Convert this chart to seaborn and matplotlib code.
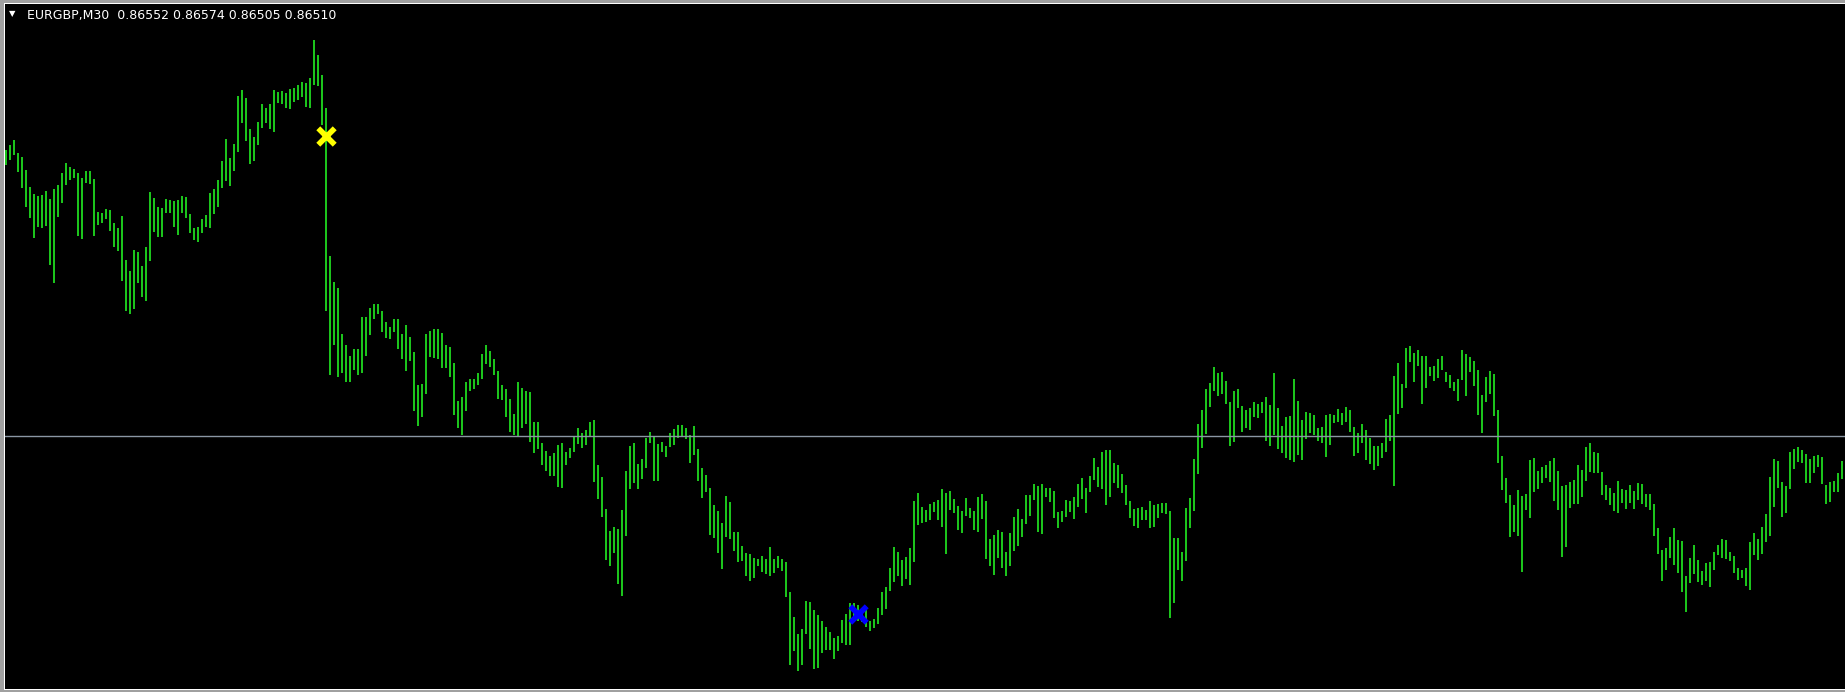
import numpy as np
import matplotlib.pyplot as plt
import seaborn as sns

# EURGBP M30, two 30-min bars merged per entry
bar_high = [
    # first block
    0.86830, 0.86835, 0.86840, 0.86827, 0.86823, 0.86810, 0.86793, 0.86786, 0.86784, 0.86785,
    0.86789, 0.86781, 0.86791, 0.86795, 0.86807, 0.86817, 0.86813, 0.86811, 0.86807, 0.86802,
    0.86809, 0.86809, 0.86801, 0.86768, 0.86767, 0.86771, 0.86770, 0.86757, 0.86752, 0.86764,
    0.86720, 0.86709, 0.86730, 0.86728, 0.86714, 0.86733, 0.86788, 0.86782, 0.86773, 0.86772,
    0.86781, 0.86780, 0.86779, 0.86780, 0.86784, 0.86783, 0.86766, 0.86752, 0.86753, 0.86761,
    0.86765, 0.86787, 0.86791, 0.86800, 0.86819, 0.86841, 0.86822, 0.86836, 0.86884, 0.86890,
    0.86882, 0.86851, 0.86843, 0.86858, 0.86876, 0.86872, 0.86876, 0.86890, 0.86888, 0.86889,
    0.86887, 0.86891, 0.86892, 0.86895, 0.86898, 0.86897,
    # drop
    0.86902, 0.86940, 0.86925, 0.86905, 0.86872, 0.86724, 0.86698, 0.86692, 0.86646, 0.86635,
    0.86624, 0.86631, 0.86631, 0.86663, 0.86663, 0.86672, 0.86676, 0.86676, 0.86669, 0.86658,
    0.86653, 0.86661, 0.86661, 0.86646, 0.86655, 0.86643, 0.86628, 0.86595, 0.86596, 0.86646,
    0.86649, 0.86651, 0.86651, 0.86647, 0.86635, 0.86633, 0.86617, 0.86579, 0.86583, 0.86598,
    0.86601, 0.86601, 0.86607, 0.86626, 0.86635, 0.86629, 0.86621, 0.86609, 0.86595, 0.86591,
    0.86581, 0.86566, 0.86598, 0.86592, 0.86589, 0.86588, 0.86558, 0.86558, 0.86537, 0.86529,
    0.86524, 0.86527, 0.86535, 0.86537, 0.86528, 0.86532, 0.86543, 0.86552, 0.86547, 0.86550,
    0.86558, 0.86560, 0.86515, 0.86503, 0.86471, 0.86449, 0.86453,
    # bottom
    0.86451, 0.86470, 0.86509, 0.86534, 0.86537, 0.86516, 0.86521, 0.86542, 0.86548, 0.86543,
    0.86536, 0.86538, 0.86534, 0.86547, 0.86551, 0.86555, 0.86555, 0.86552, 0.86545, 0.86554,
    0.86531, 0.86512, 0.86505, 0.86492, 0.86475, 0.86469, 0.86457, 0.86484, 0.86478, 0.86448,
    0.86448, 0.86434, 0.86427, 0.86426, 0.86422, 0.86421, 0.86424, 0.86421, 0.86433, 0.86421,
    0.86424, 0.86421, 0.86418, 0.86388, 0.86363, 0.86346, 0.86351, 0.86379, 0.86378, 0.86370,
    0.86365, 0.86359, 0.86353, 0.86348, 0.86342, 0.86344, 0.86360, 0.86366, 0.86377, 0.86377,
    0.86375, 0.86371, 0.86371, 0.86359, 0.86361, 0.86372, 0.86388, 0.86393, 0.86412, 0.86433,
    0.86428, 0.86420, 0.86423, 0.86432, 0.86479, 0.86487, 0.86473,
    # recovery
    0.86470, 0.86476, 0.86478, 0.86480, 0.86491, 0.86487, 0.86489, 0.86481, 0.86474, 0.86469,
    0.86482, 0.86472, 0.86469, 0.86483, 0.86486, 0.86479, 0.86441, 0.86445, 0.86450, 0.86448,
    0.86428, 0.86447, 0.86463, 0.86471, 0.86461, 0.86485, 0.86485, 0.86496, 0.86494, 0.86496,
    0.86492, 0.86492, 0.86489, 0.86468, 0.86469, 0.86480, 0.86479, 0.86483, 0.86496, 0.86502,
    0.86492, 0.86504, 0.86522, 0.86513, 0.86528, 0.86530, 0.86530, 0.86517, 0.86515, 0.86506,
    0.86495, 0.86479, 0.86471, 0.86472, 0.86473, 0.86470, 0.86479, 0.86475, 0.86476, 0.86477,
    0.86477, 0.86469, 0.86442, 0.86442, 0.86428, 0.86472, 0.86482, 0.86521, 0.86556, 0.86570,
    0.86591, 0.86597, 0.86613, 0.86607, 0.86608, 0.86599, 0.86578,
    # upper range
    0.86589, 0.86591, 0.86574, 0.86570, 0.86572, 0.86578, 0.86576, 0.86578, 0.86583, 0.86575,
    0.86607, 0.86572, 0.86554, 0.86563, 0.86564, 0.86601, 0.86579, 0.86560, 0.86568, 0.86567,
    0.86565, 0.86552, 0.86553, 0.86565, 0.86566, 0.86565, 0.86571, 0.86567, 0.86573, 0.86570,
    0.86553, 0.86547, 0.86556, 0.86550, 0.86542, 0.86534, 0.86534, 0.86537, 0.86561, 0.86565,
    0.86604, 0.86617, 0.86596, 0.86632, 0.86634, 0.86627, 0.86630, 0.86624, 0.86624, 0.86613,
    0.86614, 0.86621, 0.86624, 0.86608, 0.86605, 0.86598, 0.86601, 0.86630, 0.86626, 0.86623,
    0.86619, 0.86610, 0.86585, 0.86603, 0.86609, 0.86606, 0.86570, 0.86524, 0.86502, 0.86485,
    0.86475, 0.86490, 0.86484, 0.86486, 0.86520, 0.86522, 0.86509,
    # last
    0.86513, 0.86515, 0.86519, 0.86522, 0.86509, 0.86494, 0.86495, 0.86498, 0.86500, 0.86515,
    0.86510, 0.86533, 0.86537, 0.86528, 0.86527, 0.86508, 0.86495, 0.86492, 0.86487, 0.86499,
    0.86491, 0.86490, 0.86495, 0.86489, 0.86497, 0.86496, 0.86486, 0.86486, 0.86476, 0.86452,
    0.86430, 0.86432, 0.86443, 0.86452, 0.86440, 0.86439, 0.86404, 0.86422, 0.86435, 0.86420,
    0.86409, 0.86417, 0.86418, 0.86428, 0.86435, 0.86441, 0.86440, 0.86428, 0.86424, 0.86412,
    0.86410, 0.86412, 0.86438, 0.86447, 0.86441, 0.86453, 0.86466, 0.86503, 0.86521, 0.86519,
    0.86498, 0.86494, 0.86528, 0.86531, 0.86533, 0.86530, 0.86526, 0.86521, 0.86524, 0.86525,
    0.86523, 0.86495, 0.86498, 0.86499, 0.86507, 0.86519,
]

bar_low = [
    0.86815, 0.86820, 0.86825, 0.86808, 0.86792, 0.86773, 0.86762, 0.86742, 0.86753, 0.86752,
    0.86754, 0.86715, 0.86697, 0.86763, 0.86777, 0.86795, 0.86800, 0.86802, 0.86744, 0.86741,
    0.86797, 0.86796, 0.86744, 0.86755, 0.86757, 0.86761, 0.86749, 0.86733, 0.86729, 0.86699,
    0.86669, 0.86666, 0.86671, 0.86697, 0.86683, 0.86679, 0.86719, 0.86748, 0.86743, 0.86743,
    0.86767, 0.86767, 0.86753, 0.86745, 0.86767, 0.86762, 0.86747, 0.86740, 0.86738, 0.86747,
    0.86753, 0.86752, 0.86766, 0.86773, 0.86792, 0.86799, 0.86794, 0.86809, 0.86828, 0.86857,
    0.86839, 0.86816, 0.86819, 0.86835, 0.86852, 0.86857, 0.86851, 0.86848, 0.86877, 0.86876,
    0.86872, 0.86871, 0.86878, 0.86880, 0.86883, 0.86873,

    0.86872, 0.86895, 0.86894, 0.86855, 0.86669, 0.86605, 0.86635, 0.86603, 0.86607, 0.86598,
    0.86598, 0.86610, 0.86605, 0.86607, 0.86624, 0.86645, 0.86661, 0.86666, 0.86648, 0.86642,
    0.86641, 0.86648, 0.86631, 0.86621, 0.86609, 0.86619, 0.86569, 0.86554, 0.86563, 0.86586,
    0.86623, 0.86622, 0.86621, 0.86612, 0.86612, 0.86603, 0.86565, 0.86552, 0.86545, 0.86569,
    0.86589, 0.86591, 0.86595, 0.86601, 0.86616, 0.86613, 0.86605, 0.86581, 0.86580, 0.86563,
    0.86548, 0.86545, 0.86543, 0.86552, 0.86556, 0.86538, 0.86527, 0.86531, 0.86515, 0.86509,
    0.86504, 0.86504, 0.86493, 0.86492, 0.86515, 0.86522, 0.86528, 0.86536, 0.86532, 0.86535,
    0.86543, 0.86498, 0.86481, 0.86463, 0.86420, 0.86414, 0.86427,

    0.86396, 0.86384, 0.86444, 0.86491, 0.86497, 0.86491, 0.86501, 0.86512, 0.86537, 0.86499,
    0.86499, 0.86528, 0.86523, 0.86533, 0.86535, 0.86542, 0.86543, 0.86541, 0.86517, 0.86525,
    0.86499, 0.86482, 0.86488, 0.86445, 0.86442, 0.86427, 0.86411, 0.86443, 0.86441, 0.86429,
    0.86418, 0.86419, 0.86404, 0.86399, 0.86402, 0.86414, 0.86408, 0.86406, 0.86404, 0.86407,
    0.86412, 0.86409, 0.86383, 0.86315, 0.86329, 0.86309, 0.86315, 0.86346, 0.86331, 0.86311,
    0.86312, 0.86327, 0.86330, 0.86330, 0.86321, 0.86329, 0.86337, 0.86335, 0.86335, 0.86361,
    0.86359, 0.86358, 0.86353, 0.86349, 0.86352, 0.86356, 0.86365, 0.86371, 0.86389, 0.86398,
    0.86404, 0.86394, 0.86401, 0.86395, 0.86418, 0.86455, 0.86457,

    0.86458, 0.86460, 0.86468, 0.86460, 0.86453, 0.86426, 0.86470, 0.86467, 0.86450, 0.86447,
    0.86464, 0.86462, 0.86450, 0.86448, 0.86461, 0.86421, 0.86414, 0.86405, 0.86422, 0.86412,
    0.86404, 0.86414, 0.86429, 0.86434, 0.86443, 0.86456, 0.86464, 0.86480, 0.86448, 0.86446,
    0.86483, 0.86478, 0.86462, 0.86452, 0.86458, 0.86463, 0.86468, 0.86461, 0.86473, 0.86481,
    0.86467, 0.86488, 0.86500, 0.86493, 0.86491, 0.86475, 0.86483, 0.86497, 0.86492, 0.86487,
    0.86475, 0.86462, 0.86454, 0.86452, 0.86460, 0.86460, 0.86452, 0.86453, 0.86462, 0.86467,
    0.86466, 0.86362, 0.86377, 0.86410, 0.86399, 0.86419, 0.86452, 0.86469, 0.86506, 0.86532,
    0.86546, 0.86573, 0.86589, 0.86584, 0.86586, 0.86576, 0.86534,

    0.86538, 0.86572, 0.86548, 0.86552, 0.86550, 0.86563, 0.86562, 0.86567, 0.86539, 0.86534,
    0.86545, 0.86531, 0.86527, 0.86522, 0.86520, 0.86518, 0.86525, 0.86520, 0.86541, 0.86547,
    0.86545, 0.86539, 0.86537, 0.86523, 0.86535, 0.86557, 0.86558, 0.86555, 0.86558, 0.86548,
    0.86524, 0.86527, 0.86537, 0.86520, 0.86516, 0.86510, 0.86514, 0.86522, 0.86528, 0.86539,
    0.86494, 0.86566, 0.86572, 0.86592, 0.86618, 0.86598, 0.86614, 0.86576, 0.86592, 0.86604,
    0.86599, 0.86602, 0.86610, 0.86598, 0.86592, 0.86589, 0.86579, 0.86600, 0.86584, 0.86608,
    0.86594, 0.86565, 0.86547, 0.86578, 0.86586, 0.86564, 0.86517, 0.86490, 0.86477, 0.86443,
    0.86448, 0.86444, 0.86408, 0.86470, 0.86462, 0.86488, 0.86491,

    0.86497, 0.86502, 0.86498, 0.86479, 0.86470, 0.86423, 0.86433, 0.86472, 0.86476, 0.86476,
    0.86483, 0.86499, 0.86508, 0.86507, 0.86507, 0.86485, 0.86480, 0.86475, 0.86469, 0.86467,
    0.86477, 0.86471, 0.86477, 0.86471, 0.86480, 0.86476, 0.86473, 0.86470, 0.86444, 0.86426,
    0.86399, 0.86410, 0.86422, 0.86415, 0.86407, 0.86388, 0.86368, 0.86397, 0.86406, 0.86398,
    0.86395, 0.86399, 0.86393, 0.86410, 0.86425, 0.86422, 0.86421, 0.86419, 0.86407, 0.86400,
    0.86402, 0.86394, 0.86390, 0.86425, 0.86420, 0.86426, 0.86438, 0.86444, 0.86473, 0.86492,
    0.86463, 0.86467, 0.86491, 0.86511, 0.86518, 0.86517, 0.86497, 0.86497, 0.86507, 0.86513,
    0.86496, 0.86476, 0.86478, 0.86488, 0.86488, 0.86501,
]

hline_price = 0.86544
mark_bar = [80, 213]
mark_price = [0.86844, 0.86366]
mark_colors = ['#ffff00', '#0000ff']
header = 'EURGBP,M30  0.86552 0.86574 0.86505 0.86510'

sns.set_theme(style='dark', rc={'axes.facecolor': 'black', 'figure.facecolor': '#a0a0a0'})
plt.rcParams['font.family'] = ['DejaVu Sans']

W, H = 1845, 692
fig = plt.figure(figsize=(W / 100, H / 100), dpi=100)
# chart area inside the window frame
ax = fig.add_axes([4 / W, 3 / H, (W - 4) / W, 686 / H])
ax.set_facecolor('black')

n = min(len(bar_high), len(bar_low))
x = np.arange(n)
ax.vlines(x, bar_low[:n], bar_high[:n], colors='#1cc41c', linewidth=1.44, antialiased=False)

ax.axhline(hline_price, color='#8a96a3', linewidth=1.0)

# arrow objects (sell / buy crosses)
for bx, py, col in zip(mark_bar, mark_price, mark_colors):
    sns.scatterplot(x=[bx], y=[py], color=col, marker='x', s=140, linewidth=4.0,
                    legend=False, ax=ax, zorder=5)

ax.set_xlim(-0.5, 459.75)
ax.set_ylim(0.86291, 0.86977)
ax.set_xticks([])
ax.set_yticks([])
ax.set_xlabel('')
ax.set_ylabel('')
for side in ['left', 'top', 'bottom']:
    ax.spines[side].set_color('white')
    ax.spines[side].set_linewidth(0.72)
    ax.spines[side].set_visible(True)
ax.spines['right'].set_visible(False)

fig.text(12 / W, 1 - 13.5 / H, '\u25bc', color='white', fontsize=6, ha='center', va='center')
fig.text(27 / W, 1 - 19 / H, header, color='white', fontsize=9, va='baseline')

fig.savefig('out.png', dpi=100, facecolor=fig.get_facecolor())
